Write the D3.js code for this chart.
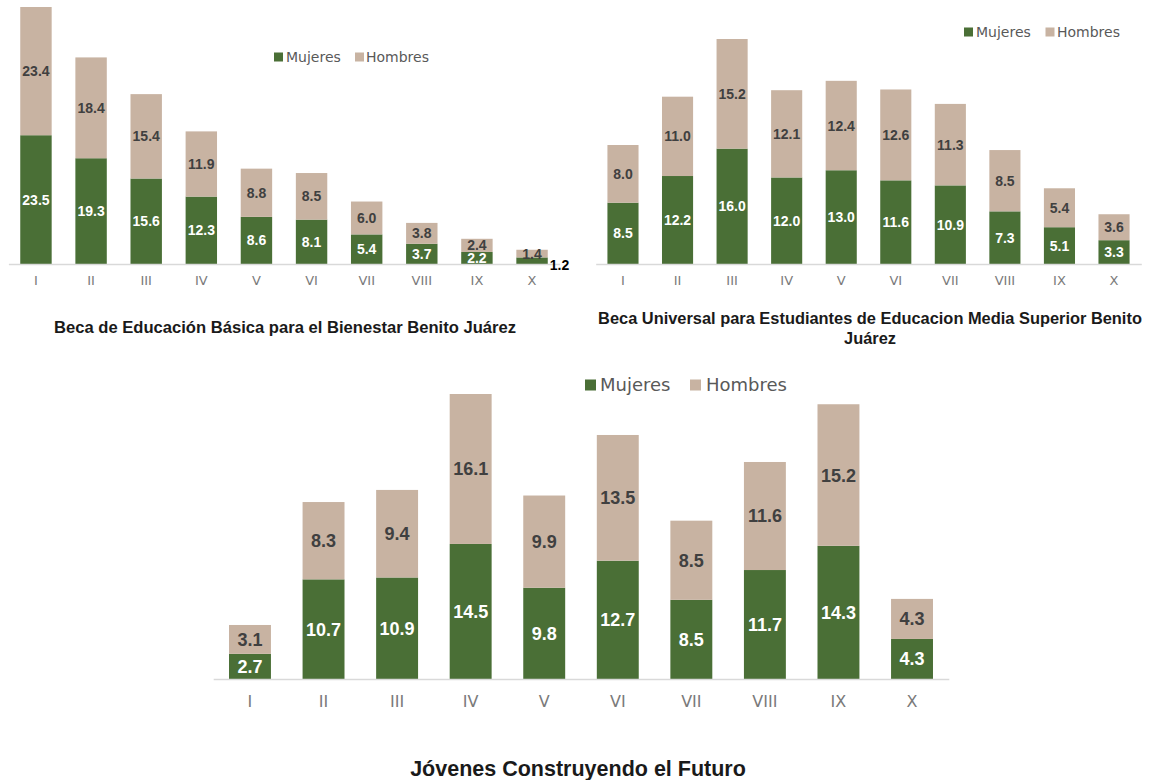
<!DOCTYPE html>
<html><head><meta charset="utf-8">
<script src="https://cdn.jsdelivr.net/npm/d3@7"></script>
<style>html,body{margin:0;padding:0;background:#fff;}</style>
</head><body>
<svg id="c" width="1149" height="780"></svg>
<script>
const categories = ["I","II","III","IV","V","VI","VII","VIII","IX","X"];
const seriesNames = ["Mujeres","Hombres"];
const basicaMujeres = [23.5,19.3,15.6,12.3,8.6,8.1,5.4,3.7,2.2,1.2];
const basicaHombres = [23.4,18.4,15.4,11.9,8.8,8.5,6.0,3.8,2.4,1.4];
const mediaMujeres = [8.5,12.2,16.0,12.0,13.0,11.6,10.9,7.3,5.1,3.3];
const mediaHombres = [8.0,11.0,15.2,12.1,12.4,12.6,11.3,8.5,5.4,3.6];
const jovenesMujeres = [2.7,10.7,10.9,14.5,9.8,12.7,8.5,11.7,14.3,4.3];
const jovenesHombres = [3.1,8.3,9.4,16.1,9.9,13.5,8.5,11.6,15.2,4.3];
const titles = ["Beca de Educación Básica para el Bienestar Benito Juárez",
  ["Beca Universal para Estudiantes de Educacion Media Superior Benito","Juárez"],
  "Jóvenes Construyendo el Futuro"];

const GREEN = "#4a6f36", TAN = "#c8b3a2";
const svg = d3.select("#c");
const LABEL_FONT = "'Liberation Sans', Arial, sans-serif";
const AXIS_FONT = "'DejaVu Sans', sans-serif";

function drawChart(o){
  const g = svg.append("g");
  const x = d3.scaleBand().domain(categories).range(o.xr).paddingInner(0.43).paddingOuter(0.215);
  const totals = o.m.map((v,i)=>v+o.h[i]);
  const y = d3.scaleLinear().domain([0, d3.max(totals)]).range([o.base, o.top]);
  const data = categories.map((c,i)=>({c, m:o.m[i], h:o.h[i]}));
  const stack = d3.stack().keys(["m","h"])(data);
  const colors = {m:GREEN, h:TAN};
  stack.forEach(layer=>{
    g.append("g").selectAll("rect").data(layer).join("rect")
      .attr("x", d=>x(d.data.c)).attr("width", x.bandwidth())
      .attr("y", d=>y(d[1])).attr("height", d=>y(d[0])-y(d[1]))
      .attr("fill", colors[layer.key]);
  });
  // axis
  const ax = g.append("g").attr("transform",`translate(0,${o.base})`)
    .call(d3.axisBottom(x).tickSize(0).tickPadding(o.tickPad));
  ax.select(".domain").attr("stroke","#d9d9d9").attr("stroke-width",1.3);
  ax.selectAll("text").attr("font-family",AXIS_FONT).attr("font-size",o.axisSize)
    .attr("fill","#7a7a7a").attr("font-weight","normal");
  // labels
  const isOut = (layer,d)=> o.outside && layer.key==="m" && d.data.c===o.outside;
  stack.forEach(layer=>{
    g.append("g").selectAll("text").data(layer).join("text")
      .attr("x", d=> isOut(layer,d) ? x(d.data.c)+x.bandwidth()+2 : x(d.data.c)+x.bandwidth()/2)
      .attr("y", d=> (y(d[0])+y(d[1]))/2 + (isOut(layer,d)?4:0))
      .attr("dy","0.36em")
      .attr("text-anchor", d=> isOut(layer,d) ? "start" : "middle")
      .attr("font-family",LABEL_FONT).attr("font-weight","bold").attr("font-size",o.labelSize)
      .attr("fill", d=> isOut(layer,d) ? "#000" : (layer.key==="m" ? "#ffffff" : "#404040"))
      .text(d=>(d[1]-d[0]).toFixed(1));
  });
  // legend
  const lg = g.append("g");
  o.legend.forEach((L,i)=>{
    lg.append("rect").attr("x",L.sx).attr("y",o.legY-o.sq/2).attr("width",o.sq).attr("height",o.sq)
      .attr("fill", i===0?GREEN:TAN);
    lg.append("text").attr("x",L.tx).attr("y",o.legY).attr("dy","0.35em")
      .attr("font-family",AXIS_FONT).attr("font-size",o.legSize).attr("fill","#595959")
      .text(seriesNames[i]);
  });
}

drawChart({m:basicaMujeres,h:basicaHombres,xr:[8.4,559.6],base:264,top:7,
  tickPad:12,axisSize:13,labelSize:14,outside:"X",
  legY:57,sq:9,legSize:14,legend:[{sx:274,tx:286},{sx:355,tx:366}]});
drawChart({m:mediaMujeres,h:mediaHombres,xr:[595.7,1141.3],base:264,top:39,
  tickPad:12,axisSize:13,labelSize:14,
  legY:32,sq:9,legSize:14,legend:[{sx:964,tx:976},{sx:1045.5,tx:1057}]});
drawChart({m:jovenesMujeres,h:jovenesHombres,xr:[213.2,948.8],base:679,top:394,
  tickPad:17,axisSize:16,labelSize:18,
  legY:385,sq:11,legSize:18,legend:[{sx:585,tx:600},{sx:690,tx:706}]});

function title(lines, cx, y0, size, lh){
  const t = svg.append("text").attr("text-anchor","middle")
    .attr("font-family",LABEL_FONT).attr("font-weight","bold").attr("font-size",size).attr("fill","#1a1a1a");
  (Array.isArray(lines)?lines:[lines]).forEach((l,i)=>{
    t.append("tspan").attr("x",cx).attr("y",y0+i*lh).attr("dy","0.35em").text(l);
  });
}
title(titles[0],285,327,16.6,20);
title(titles[1],870,318,16.4,20);
title(titles[2],578,768,21.5,22);
</script>
</body></html>
